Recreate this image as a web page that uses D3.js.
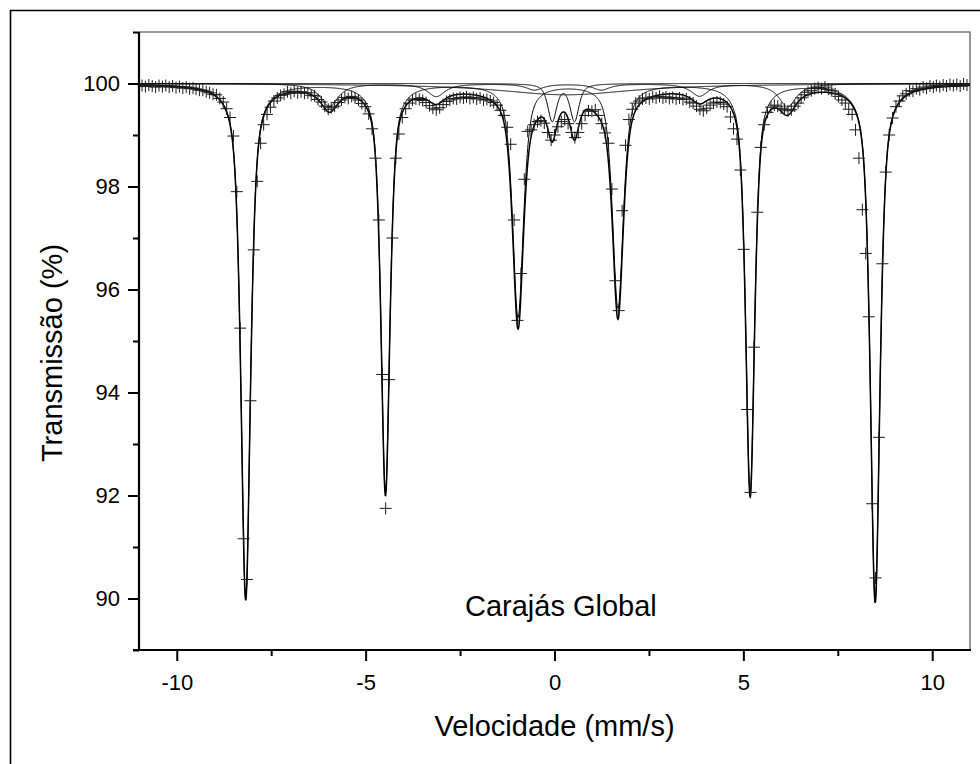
<!DOCTYPE html>
<html>
<head>
<meta charset="utf-8">
<script src="https://cdn.jsdelivr.net/npm/d3@7"></script>
<style>
  body { margin: 0; background: #fff; }
  svg { display: block; }
  text { font-family: "Liberation Sans", Arial, Helvetica, sans-serif; fill: #000; }
</style>
</head>
<body>
<svg id="chart" width="980" height="764"></svg>
<script>
// Measured channels: Doppler velocity (mm/s) and relative transmission (%)
const velocity = [
  -10.92,-10.83,-10.74,-10.65,-10.56,-10.47,-10.38,-10.29,-10.20,-10.11,
  -10.02,-9.93,-9.84,-9.75,-9.66,-9.57,-9.49,-9.40,-9.31,-9.22,
  -9.13,-9.04,-8.95,-8.86,-8.77,-8.68,-8.59,-8.50,-8.41,-8.32,
  -8.23,-8.14,-8.05,-7.96,-7.87,-7.78,-7.70,-7.61,-7.52,-7.43,
  -7.34,-7.25,-7.16,-7.07,-6.98,-6.89,-6.80,-6.71,-6.62,-6.53,
  -6.44,-6.35,-6.26,-6.17,-6.08,-5.99,-5.91,-5.82,-5.73,-5.64,
  -5.55,-5.46,-5.37,-5.28,-5.19,-5.10,-5.01,-4.92,-4.83,-4.74,
  -4.65,-4.56,-4.47,-4.38,-4.29,-4.20,-4.12,-4.03,-3.94,-3.85,
  -3.76,-3.67,-3.58,-3.49,-3.40,-3.31,-3.22,-3.13,-3.04,-2.95,
  -2.86,-2.77,-2.68,-2.59,-2.50,-2.41,-2.33,-2.24,-2.15,-2.06,
  -1.97,-1.88,-1.79,-1.70,-1.61,-1.52,-1.43,-1.34,-1.25,-1.16,
  -1.07,-0.98,-0.89,-0.80,-0.71,-0.62,-0.54,-0.45,-0.36,-0.27,
  -0.18,-0.09,0.00,0.09,0.18,0.27,0.36,0.45,0.54,0.63,
  0.72,0.81,0.90,0.99,1.08,1.16,1.25,1.34,1.43,1.52,
  1.61,1.70,1.79,1.88,1.97,2.06,2.15,2.24,2.33,2.42,
  2.51,2.60,2.69,2.78,2.87,2.95,3.04,3.13,3.22,3.31,
  3.40,3.49,3.58,3.67,3.76,3.85,3.94,4.03,4.12,4.21,
  4.30,4.39,4.48,4.57,4.66,4.74,4.83,4.92,5.01,5.10,
  5.19,5.28,5.37,5.46,5.55,5.64,5.73,5.82,5.91,6.00,
  6.09,6.18,6.27,6.36,6.45,6.53,6.62,6.71,6.80,6.89,
  6.98,7.07,7.16,7.25,7.34,7.43,7.52,7.61,7.70,7.79,
  7.88,7.97,8.06,8.15,8.24,8.32,8.41,8.50,8.59,8.68,
  8.77,8.86,8.95,9.04,9.13,9.22,9.31,9.40,9.49,9.58,
  9.67,9.76,9.85,9.94,10.03,10.11,10.20,10.29,10.38,10.47,
  10.56,10.65,10.74,10.83,10.92
];
const transmission = [
  99.96,99.94,99.97,99.95,99.93,99.96,99.94,99.96,99.93,99.95,
  99.92,99.94,99.91,99.93,99.90,99.91,99.89,99.87,99.87,99.84,
  99.82,99.79,99.78,99.71,99.64,99.51,99.34,98.98,97.90,95.25,
  91.16,90.37,93.84,96.77,98.10,98.84,99.20,99.40,99.54,99.66,
  99.72,99.77,99.79,99.84,99.81,99.85,99.82,99.84,99.81,99.82,
  99.77,99.76,99.69,99.64,99.56,99.50,99.53,99.56,99.63,99.68,
  99.73,99.71,99.75,99.72,99.68,99.61,99.55,99.41,99.12,98.55,
  97.35,94.35,91.75,94.25,97.00,98.55,99.02,99.34,99.51,99.62,
  99.68,99.70,99.69,99.67,99.63,99.57,99.52,99.49,99.53,99.59,
  99.65,99.68,99.71,99.70,99.73,99.72,99.74,99.71,99.73,99.70,
  99.72,99.68,99.69,99.66,99.63,99.58,99.48,99.38,99.15,98.82,
  97.35,95.40,96.31,98.14,99.07,99.10,99.20,99.26,99.28,99.23,
  99.05,98.90,99.00,99.16,99.26,99.30,99.22,99.05,98.95,99.05,
  99.22,99.38,99.47,99.46,99.49,99.38,99.22,99.04,98.84,97.95,
  96.17,95.59,97.53,98.80,99.30,99.50,99.62,99.66,99.70,99.72,
  99.70,99.74,99.72,99.75,99.72,99.74,99.71,99.73,99.70,99.72,
  99.69,99.70,99.64,99.62,99.56,99.50,99.47,99.52,99.58,99.62,
  99.64,99.63,99.60,99.55,99.35,99.12,98.92,98.32,96.78,93.67,
  92.06,94.88,97.50,98.76,99.20,99.44,99.54,99.58,99.56,99.52,
  99.50,99.47,99.49,99.56,99.62,99.72,99.78,99.83,99.86,99.90,
  99.92,99.90,99.93,99.89,99.86,99.80,99.75,99.68,99.62,99.50,
  99.40,99.10,98.55,97.55,96.70,95.47,91.84,90.40,93.13,96.50,
  98.28,99.00,99.33,99.55,99.66,99.76,99.80,99.86,99.85,99.90,
  99.88,99.93,99.91,99.95,99.93,99.96,99.94,99.97,99.95,99.98,
  99.96,99.98,99.95,99.99,99.97
];

// Fitted sub-spectra (line position mm/s, absorption depth %, half width mm/s)
const sextetAPositions = [-8.175, -4.475, -0.965, 1.68, 5.18, 8.49];
const sextetADepths    = [10.0, 7.92, 4.52, 4.34, 7.93, 10.05];
const sextetAWidths    = [0.15, 0.14, 0.17, 0.17, 0.14, 0.15];
const sextetBPositions = [-5.96, -3.13, -0.53, 1.24, 3.84, 6.17];
const sextetBDepths    = [0.45, 0.25, 0.12, 0.12, 0.24, 0.45];
const sextetBWidths    = [0.28, 0.28, 0.28, 0.28, 0.28, 0.28];
const doubletPositions = [-0.06, 0.53];
const doubletDepths    = [0.72, 0.72];
const doubletWidths    = [0.14, 0.14];
const broadPositions   = [0.3];
const broadDepths      = [0.22];
const broadWidths      = [2.2];

const xTickValues = [-10, -5, 0, 5, 10];
const xMinorValues = [-7.5, -2.5, 2.5, 7.5];
const yTickValues = [90, 92, 94, 96, 98, 100];
const yMinorValues = [89, 91, 93, 95, 97, 99, 101];

// pseudo-Voigt line: eta = Lorentzian fraction
function lineShape(v, c, d, w, eta) {
  const t = (v - c) / w;
  return d * ((1 - eta) * Math.exp(-Math.LN2 * t * t) + eta / (1 + t * t));
}
function absorption(v, pos, depth, width, eta) {
  let s = 0;
  for (let i = 0; i < pos.length; i++) s += lineShape(v, pos[i], depth[i], width[i], eta);
  return s;
}
const components = [
  v => absorption(v, sextetAPositions, sextetADepths, sextetAWidths, 0.65),
  v => absorption(v, sextetBPositions, sextetBDepths, sextetBWidths, 1),
  v => absorption(v, doubletPositions, doubletDepths, doubletWidths, 0.65),
  v => absorption(v, broadPositions, broadDepths, broadWidths, 1)
];

const svg = d3.select("#chart");
const figW = 980, figH = 764;
const plotLeft = 139, plotRight = 970, plotTop = 32, plotBottom = 650;

const x = d3.scaleLinear().domain([-11, 11]).range([plotLeft, plotRight]);
const y = d3.scaleLinear().domain([89, 101]).range([plotBottom, plotTop]);
const plainNumber = d => String(d);

// outer frame of the figure
svg.append("path")
  .attr("d", `M10.5,${figH + 5}V10.5H${figW + 5}`)
  .attr("fill", "none").attr("stroke", "#000").attr("stroke-width", 1.6);

svg.append("clipPath").attr("id", "plotClip")
  .append("rect").attr("x", plotLeft).attr("y", plotTop)
  .attr("width", plotRight - plotLeft).attr("height", plotBottom - plotTop);

// top and right frame lines
svg.append("path")
  .attr("d", `M${plotLeft},${plotTop}H${plotRight}V${plotBottom}`)
  .attr("fill", "none").attr("stroke", "#777").attr("stroke-width", 1.5);

const grid = d3.range(-11, 11.0001, 0.01);
const curve = d3.line().x(d => x(d[0])).y(d => y(d[1]));
const plot = svg.append("g").attr("clip-path", "url(#plotClip)");

components.forEach(f => {
  plot.append("path")
    .attr("d", curve(grid.map(v => [v, 100 - f(v)])))
    .attr("fill", "none").attr("stroke", "#000").attr("stroke-width", 1);
});
plot.append("path")
  .attr("d", curve(grid.map(v => [v, 100 - components.reduce((s, f) => s + f(v), 0)])))
  .attr("fill", "none").attr("stroke", "#000").attr("stroke-width", 1.5);

// measured points as crosses
const data = velocity.map((v, i) => [v, transmission[i]]);
plot.append("g").selectAll("path").data(data).join("path")
  .attr("transform", d => `translate(${x(d[0])},${y(d[1])})`)
  .attr("d", "M-6,0H6M0,-6V6")
  .attr("stroke", "#1a1a1a").attr("stroke-width", 1).attr("fill", "none");

// axes
svg.append("g").attr("transform", `translate(0,${plotBottom})`)
  .call(d3.axisBottom(x).tickValues(xTickValues).tickSize(11).tickPadding(13).tickFormat(plainNumber));
svg.append("g").attr("transform", `translate(0,${plotBottom})`)
  .call(d3.axisBottom(x).tickValues(xMinorValues).tickSize(6).tickFormat(""));
svg.append("g").attr("transform", `translate(${plotLeft},0)`)
  .call(d3.axisLeft(y).tickValues(yTickValues).tickSize(11).tickPadding(8).tickFormat(plainNumber));
svg.append("g").attr("transform", `translate(${plotLeft},0)`)
  .call(d3.axisLeft(y).tickValues(yMinorValues).tickSize(6).tickFormat(""));

svg.selectAll(".domain").remove();
svg.selectAll(".tick line").attr("stroke", "#000").attr("stroke-width", 2);
svg.selectAll(".tick text").attr("font-size", 22).attr("font-family", "Liberation Sans, Arial, sans-serif");

svg.append("line").attr("x1", plotLeft).attr("x2", plotLeft).attr("y1", plotTop).attr("y2", plotBottom + 1)
  .attr("stroke", "#000").attr("stroke-width", 2.2);
svg.append("line").attr("x1", plotLeft - 6).attr("x2", plotRight + 1).attr("y1", plotBottom).attr("y2", plotBottom)
  .attr("stroke", "#000").attr("stroke-width", 2.2);

// titles
svg.append("text").attr("x", 554.5).attr("y", 736).attr("text-anchor", "middle")
  .attr("font-size", 29).text("Velocidade (mm/s)");
svg.append("text").attr("transform", "translate(62,353) rotate(-90)").attr("text-anchor", "middle")
  .attr("font-size", 29).text("Transmissão (%)");
svg.append("text").attr("x", 465).attr("y", 616).attr("font-size", 29).text("Carajás Global");
</script>
</body>
</html>
